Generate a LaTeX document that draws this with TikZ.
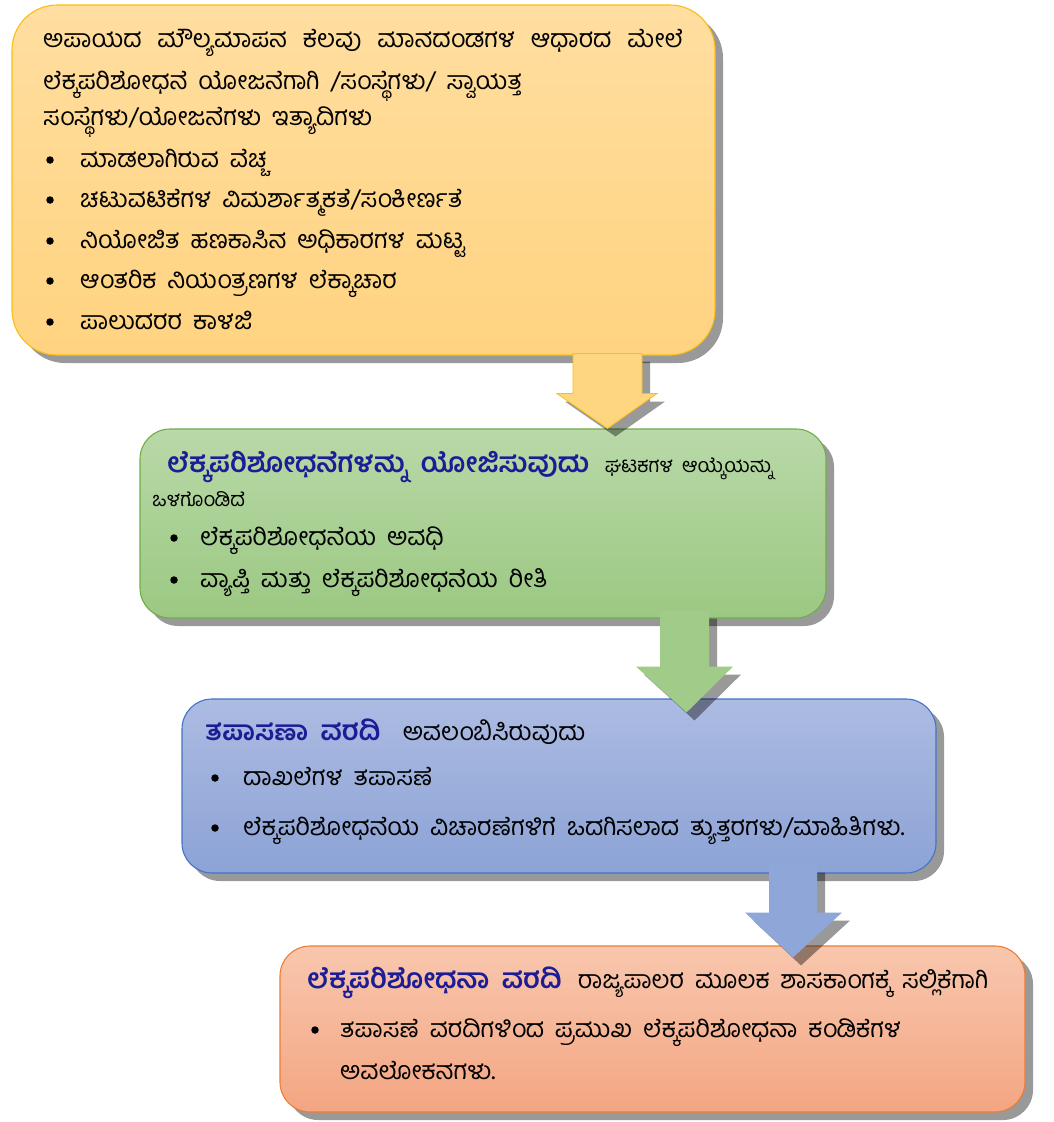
\documentclass[tikz,border=0pt]{standalone}
\usepackage{fontspec}
\usetikzlibrary{shadows,calc}
\newfontfamily\kn[Script=Kannada,WordSpace=1.8]{Hind Mysuru}
\definecolor{ttlblue}{RGB}{28,28,150}
\definecolor{y1}{RGB}{255,222,160}\definecolor{y2}{RGB}{255,211,128}\definecolor{yb}{RGB}{250,190,20}
\definecolor{g1}{RGB}{185,217,168}\definecolor{g2}{RGB}{155,200,130}\definecolor{gb}{RGB}{112,173,71}
\definecolor{bl1}{RGB}{172,187,226}\definecolor{bl2}{RGB}{140,163,214}\definecolor{blb}{RGB}{68,114,196}
\definecolor{o1}{RGB}{248,199,174}\definecolor{o2}{RGB}{244,165,130}\definecolor{ob}{RGB}{237,125,49}
\definecolor{ya}{RGB}{255,214,128}\definecolor{ga}{RGB}{160,203,136}\definecolor{ba}{RGB}{143,166,216}
\tikzset{
  box/.style={rectangle, line width=1.1pt, drop shadow={shadow xshift=8pt, shadow yshift=-8pt, fill=black, opacity=0.4}},
  txt/.style={anchor=base west, inner sep=0pt, font=\kn\fontsize{25}{30}\selectfont},
  small/.style={txt, font=\kn\fontsize{20}{24}\selectfont},
  ttl/.style={txt, text=ttlblue, font=\kn\bfseries\fontsize{27.5}{32}\selectfont},
  dot/.style={circle, fill=black, inner sep=0pt, minimum size=7.5pt},
  arrowshadow/.style={preaction={fill=black, opacity=0.4, transform canvas={shift={(8pt,-8pt)}}}},
}
\begin{document}
\begin{tikzpicture}[x=1pt,y=-1pt]
\useasboundingbox (0,0) rectangle (1053,1122);
% boxes
\node[box, minimum width=703pt, minimum height=350pt, rounded corners=45pt, top color=y1, bottom color=y2, draw=yb] (b1) at (363.5,180) {};
\node[box, minimum width=686pt, minimum height=189pt, rounded corners=30pt, top color=g1, bottom color=g2, draw=gb] (b2) at (483,523.5) {};
\node[box, minimum width=754pt, minimum height=174pt, rounded corners=30pt, top color=bl1, bottom color=bl2, draw=blb] (b3) at (559,786) {};
\node[box, minimum width=745pt, minimum height=166pt, rounded corners=30pt, top color=o1, bottom color=o2, draw=ob] (b4) at (652.5,1029) {};
% arrows
\path[arrowshadow, fill=ya, draw=yb, line width=0.8pt] let \p1=(b1.south), \p2=(b2.north) in
  (573pt,\y1+2pt) -- (573pt,\y1-38pt) -- (557pt,\y1-38pt) -- (607.5pt,\y2) -- (657pt,\y1-38pt) -- (642pt,\y1-38pt) -- (642pt,\y1+2pt) -- cycle;
\path[arrowshadow, fill=ga] let \p1=(b2.south), \p2=(b3.north) in
  (660pt,\y1+8pt) -- (660pt,\y1-48pt) -- (636pt,\y1-48pt) -- (686.5pt,\y2-14pt) -- (733pt,\y1-48pt) -- (709pt,\y1-48pt) -- (709pt,\y1+8pt) -- cycle;
\path[arrowshadow, fill=ba] let \p1=(b3.south), \p2=(b4.north) in
  (769pt,\y1+9pt) -- (769pt,\y1-39pt) -- (745pt,\y1-39pt) -- (793pt,\y2-12pt) -- (842pt,\y1-39pt) -- (817pt,\y1-39pt) -- (817pt,\y1+9pt) -- cycle;
% box 1 text
\node[txt] (t1a) at (43,47) {\makebox[640pt][s]{ಅಪಾಯದ ಮೌಲ್ಯಮಾಪನ ಕೆಲವು ಮಾನದಂಡಗಳ ಆಧಾರದ ಮೇಲೆ}};
\node[txt] (t1b) at (43,89) {ಲೆಕ್ಕಪರಿಶೋಧನೆ ಯೋಜನೆಗಾಗಿ /ಸಂಸ್ಥೆಗಳು/ ಸ್ವಾಯತ್ತ};
\node[txt] (t1c) at (43,125) {ಸಂಸ್ಥೆಗಳು/ಯೋಜನೆಗಳು ಇತ್ಯಾದಿಗಳು};
\node[dot] (d11) at (50,160) {};
\node[txt] (t1d) at (80,167) {ಮಾಡಲಾಗಿರುವ ವೆಚ್ಚ};
\node[dot] (d12) at (50,200) {};
\node[txt] (t1e) at (80,207) {ಚಟುವಟಿಕೆಗಳ ವಿಮರ್ಶಾತ್ಮಕತೆ/ಸಂಕೀರ್ಣತೆ};
\node[dot] (d13) at (50,241) {};
\node[txt] (t1f) at (80,248) {ನಿಯೋಜಿತ ಹಣಕಾಸಿನ ಅಧಿಕಾರಗಳ ಮಟ್ಟ};
\node[dot] (d14) at (50,281) {};
\node[txt] (t1g) at (80,288) {ಆಂತರಿಕ ನಿಯಂತ್ರಣಗಳ ಲೆಕ್ಕಾಚಾರ};
\node[dot] (d15) at (50,322) {};
\node[txt] (t1h) at (80,329) {ಪಾಲುದರರ ಕಾಳಜಿ};
% box 2 text
\node[ttl] (t2a) at (167,472) {ಲೆಕ್ಕಪರಿಶೋಧನೆಗಳನ್ನು ಯೋಜಿಸುವುದು};
\node[small, anchor=base west] (t2b) at ([xshift=15pt]t2a.base east) {ಘಟಕಗಳ ಆಯ್ಕೆಯನ್ನು};
\node[small] (t2c) at (152,506) {ಒಳಗೊಂಡಿದೆ};
\node[dot] (d21) at (174,538) {};
\node[txt] (t2d) at (200,545) {ಲೆಕ್ಕಪರಿಶೋಧನೆಯ ಅವಧಿ};
\node[dot] (d22) at (174,580) {};
\node[txt] (t2e) at (200,587) {ವ್ಯಾಪ್ತಿ ಮತ್ತು ಲೆಕ್ಕಪರಿಶೋಧನೆಯ ರೀತಿ};
% box 3 text
\node[ttl] (t3a) at (205,740) {ತಪಾಸಣಾ ವರದಿ};
\node[txt, anchor=base west] (t3b) at ([xshift=22pt]t3a.base east) {ಅವಲಂಬಿಸಿರುವುದು};
\node[dot] (d31) at (215,778) {};
\node[txt] (t3c) at (243,785) {ದಾಖಲೆಗಳ ತಪಾಸಣೆ};
\node[dot] (d32) at (215,828) {};
\node[txt] (t3d) at (243,835) {ಲೆಕ್ಕಪರಿಶೋಧನೆಯ ವಿಚಾರಣೆಗಳಿಗೆ ಒದಗಿಸಲಾದ ತ್ಯುತ್ತರಗಳು/ಮಾಹಿತಿಗಳು.};
% box 4 text
\node[ttl] (t4a) at (307,988) {ಲೆಕ್ಕಪರಿಶೋಧನಾ ವರದಿ};
\node[txt, anchor=base west] (t4b) at ([xshift=16pt]t4a.base east) {ರಾಜ್ಯಪಾಲರ ಮೂಲಕ ಶಾಸಕಾಂಗಕ್ಕೆ ಸಲ್ಲಿಕೆಗಾಗಿ};
\node[dot] (d41) at (315,1030) {};
\node[txt] (t4c) at (340,1037) {ತಪಾಸಣೆ ವರದಿಗಳಿಂದ ಪ್ರಮುಖ ಲೆಕ್ಕಪರಿಶೋಧನಾ ಕಂಡಿಕೆಗಳ};
\node[txt] (t4d) at (340,1079) {ಅವಲೋಕನಗಳು.};
\end{tikzpicture}
\end{document}
